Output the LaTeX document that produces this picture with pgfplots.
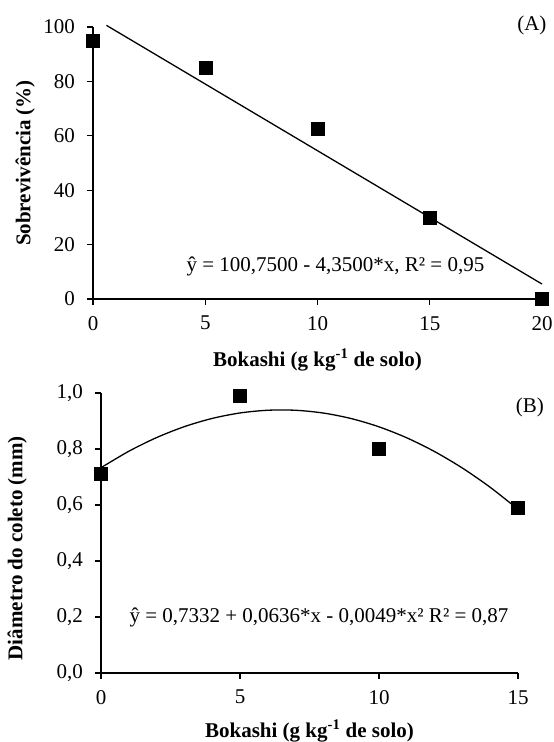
\documentclass[border=0pt]{standalone}
\usepackage{fontspec}
\setmainfont{Liberation Serif}
\usepackage{pgfplots}
\pgfplotsset{compat=1.18}

\pgfplotsset{
  panel/.style={
    scale only axis,
    axis x line=bottom, axis y line=left,
    axis line style={line width=2.2bp, -},
    tick style={black, line width=1.2bp},
    tick align=outside,
    major tick length=6bp,
    enlargelimits=false,
    clip=false,
    /pgf/number format/assume math mode=true,
    xticklabel style={yshift=-4bp},
    yticklabel style={xshift=-5bp},
    xlabel style={anchor=center, font=\bfseries},
    ylabel style={anchor=center, font=\bfseries},
  },
  pts/.style={only marks, mark=square*, mark size=6.5bp, black, mark options={fill=black}},
}

\begin{document}
\fontsize{21bp}{25bp}\selectfont
\begin{tikzpicture}
\path[use as bounding box] (0,0) rectangle (554bp,742bp);

% (A) survival
\begin{axis}[panel,
  at={(93bp,443bp)}, anchor=south west,
  width=449bp, height=272bp,
  xmin=0, xmax=20, ymin=0, ymax=100,
  xtick={0,5,10,15,20}, ytick={0,20,40,60,80,100},
  xlabel={Bokashi (g kg\textsuperscript{-1} de solo)},
  ylabel={Sobrevivência (\%)},
  xlabel style={at={(axis description cs:0.5,-0.224)}},
  ylabel style={at={(axis description cs:-0.151,0.5)}},
]
\addplot[black, line width=1.3bp] coordinates {(0.6,100.6) (20,5.5)};
\addplot[pts] coordinates {(0,95) (5,85) (10,62.7) (15,30) (20,0)};
\node at (axis cs:10.8,11.8) {ŷ = 100,7500 - 4,3500*x, R² = 0,95};
\node at (axis cs:19.55,100.7) {(A)};
\end{axis}

% (B) collar diameter
\begin{axis}[panel,
  at={(101bp,69bp)}, anchor=south west,
  width=417bp, height=280bp,
  xmin=0, xmax=15, ymin=0, ymax=1,
  xtick={0,5,10,15}, ytick={0,0.2,0.4,0.6,0.8,1},
  yticklabel style={/pgf/number format/.cd, fixed, fixed zerofill, precision=1, use comma},
  xlabel={Bokashi (g kg\textsuperscript{-1} de solo)},
  ylabel={Diâmetro do coleto (mm)},
  xlabel style={at={(axis description cs:0.5,-0.207)}},
  ylabel style={at={(axis description cs:-0.201,0.446)}},
]
\addplot[black, line width=1.3bp, smooth] coordinates {
  (0,0.7332) (1,0.7919) (2,0.8408) (3,0.8799) (4,0.9092) (5,0.9287)
  (6,0.9384) (7,0.9383) (8,0.9284) (9,0.9087) (10,0.8792) (11,0.8399)
  (12,0.7908) (13,0.7319) (14,0.6632) (15,0.5847)};
\addplot[pts] coordinates {(0,0.71) (5,0.99) (10,0.80) (15,0.59)};
\node at (axis cs:7.84,0.2) {ŷ = 0,7332 + 0,0636*x - 0,0049*x² R² = 0,87};
\node at (axis cs:15.43,0.95) {(B)};
\end{axis}
\end{tikzpicture}
\end{document}
